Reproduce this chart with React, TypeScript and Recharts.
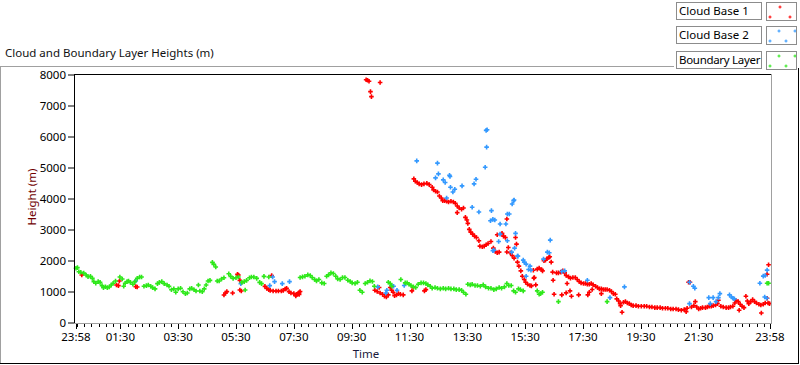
import { Scatter, ScatterChart, XAxis, YAxis } from 'recharts'

const FONT = '"Noto Sans", "DejaVu Sans", sans-serif'

// minutes after 23:58 of the previous day
const MAJOR_TICKS = [0, 92, 212, 332, 452, 572, 692, 812, 932, 1052, 1172, 1292, 1440]
const TICK_LABELS = ['23:58', '01:30', '03:30', '05:30', '07:30', '09:30', '11:30', '13:30', '15:30', '17:30', '19:30', '21:30', '23:58']
const HEIGHT_TICKS = [0, 1000, 2000, 3000, 4000, 5000, 6000, 7000, 8000]

const SERIES_NAMES = ['Cloud Base 1', 'Cloud Base 2', 'Boundary Layer']
const SERIES_COLORS = ['#ff0000', '#3399ff', '#2ee81a']

// [minute, height m]
const cloudBase1: [number, number][] = [
  [12, 1548], [84, 1226], [88, 1205], [90, 1355], [124, 1172], [127, 1161],
  [307, 904], [310, 968], [313, 1011], [325, 968], [335, 1570], [337, 1548], [340, 1376], [340, 1065], [343, 1032],
  [392, 1183], [396, 1118], [400, 1075], [403, 1054], [406, 1527], [409, 1032], [415, 1032], [420, 1032], [426, 1032],
  [430, 1054], [434, 1097], [437, 1118], [442, 1011], [446, 968], [452, 946], [456, 904], [456, 873], [458, 927],
  [461, 946], [463, 925], [463, 981], [465, 1014],
  [602, 7847], [605, 7830], [608, 7800], [611, 7465], [613, 7303], [631, 7757],
  [620, 1057], [625, 1014], [629, 1143], [631, 970], [636, 927], [640, 862], [644, 841], [648, 906], [652, 1143],
  [655, 1057], [658, 992], [661, 884], [665, 906], [669, 949], [673, 927], [679, 906], [697, 1035], [700, 1143],
  [723, 1035], [726, 1078],
  [701, 4649], [704, 4573], [708, 4530], [712, 4487], [717, 4465], [722, 4487], [728, 4508], [733, 4465], [739, 4379],
  [742, 4293], [746, 4250], [750, 4228], [754, 4098], [758, 4034], [761, 3947], [765, 3947], [769, 3926], [773, 3904],
  [778, 3926], [783, 3904], [787, 3861], [791, 3775], [791, 3559], [795, 3710], [800, 3667], [804, 3710], [808, 3408],
  [811, 3322], [813, 3214], [816, 3020], [819, 2933], [823, 2868], [827, 2804], [831, 2760], [836, 2653], [838, 2480],
  [843, 2458], [847, 2480], [851, 2523], [855, 2566], [861, 2631], [866, 2415], [870, 2307], [874, 2264], [874, 2847],
  [878, 2287], [884, 2890], [887, 2804], [891, 2760], [894, 3354], [894, 2290], [897, 2437], [901, 2264], [905, 2178],
  [909, 2092], [912, 2760], [914, 2545], [916, 1963], [919, 1834], [923, 1683], [926, 1510], [930, 1402], [933, 1316],
  [937, 1251], [942, 1208], [945, 1197], [949, 1704], [950, 1446], [951, 1467], [954, 1230],
  [957, 1737], [961, 1769], [966, 1726], [968, 1683], [971, 2007], [974, 2028], [977, 2071], [981, 2114], [983, 2136],
  [986, 1963], [989, 1640], [990, 1381], [992, 928], [997, 1618], [1001, 1618], [1006, 1640], [1008, 906], [1010, 1683],
  [1014, 1618], [1017, 1532], [1017, 971], [1019, 1273], [1022, 1489], [1025, 1035], [1026, 1446], [1028, 863],
  [1031, 1467], [1036, 1467], [1040, 1402], [1043, 906], [1044, 1338], [1048, 1294], [1053, 1273], [1057, 1273],
  [1061, 1251], [1062, 906], [1065, 1251], [1065, 992], [1069, 1273], [1071, 1079], [1073, 1230], [1078, 1187],
  [1082, 1143], [1086, 1100], [1090, 1100], [1090, 949], [1094, 1079], [1098, 1079], [1102, 1079], [1107, 1057],
  [1111, 1014], [1115, 949], [1119, 928], [1122, 777], [1126, 712], [1129, 626], [1130, 561], [1133, 345],
  [1136, 669], [1140, 690], [1144, 647], [1148, 626], [1152, 582], [1156, 561], [1162, 561], [1167, 539], [1173, 539],
  [1179, 539], [1184, 539], [1190, 518], [1195, 518], [1201, 496], [1206, 496], [1212, 496], [1217, 474], [1223, 474],
  [1228, 474], [1234, 453], [1239, 453], [1245, 453], [1250, 431], [1256, 410], [1262, 431], [1266, 366], [1268, 474],
  [1271, 1316], [1274, 1316], [1277, 518], [1282, 561], [1285, 690], [1288, 518], [1292, 453], [1296, 474], [1300, 496],
  [1306, 496], [1310, 518], [1314, 539], [1318, 539], [1322, 561], [1327, 582], [1331, 626], [1333, 734], [1338, 539],
  [1343, 518], [1349, 496], [1354, 496], [1358, 518], [1363, 539], [1367, 647], [1369, 734], [1374, 690], [1376, 410],
  [1378, 604], [1382, 539], [1386, 496], [1390, 863], [1393, 712], [1396, 626], [1400, 690], [1404, 755], [1408, 690],
  [1412, 647], [1417, 604], [1421, 582], [1422, 323], [1426, 604], [1430, 647], [1434, 798], [1434, 1575], [1436, 647],
  [1437, 1877], [1439, 626],
]

const cloudBase2: [number, number][] = [
  [124, 1355], [342, 1269], [402, 1205], [408, 1484], [412, 1334], [428, 1269], [443, 1334],
  [626, 1165], [643, 970], [645, 1057], [655, 1208], [659, 1186], [666, 1057], [681, 1208],
  [707, 5231], [746, 4681], [750, 5156], [752, 4811], [762, 4616], [766, 4530], [769, 4034], [775, 4767], [776, 4724],
  [777, 4379], [782, 4228], [786, 4314], [801, 4422], [822, 3732], [826, 4487], [830, 4638], [836, 3581], [849, 5026],
  [851, 6213], [852, 5674], [853, 6235], [860, 3300], [862, 3624], [865, 3343], [865, 2329], [867, 2351], [869, 3322],
  [877, 2631], [880, 3192], [880, 2868], [892, 3192], [895, 3516], [895, 2653], [899, 3516], [904, 2287], [905, 3840],
  [908, 3947], [909, 3969], [910, 2415], [912, 2890], [916, 2157], [917, 2156], [928, 2027], [930, 1963], [934, 1899],
  [934, 1510], [939, 1726], [942, 1834], [944, 1704], [970, 2060], [978, 2286], [982, 2264], [984, 2674],
  [1008, 1661], [1014, 1683], [1061, 1381], [1108, 820], [1138, 1165], [1273, 1316], [1273, 626], [1281, 1187],
  [1284, 1122], [1313, 820], [1316, 626], [1322, 820], [1328, 690], [1333, 820], [1336, 949], [1356, 906], [1360, 841],
  [1363, 798], [1366, 777], [1419, 1284], [1426, 1511], [1429, 841], [1430, 1532], [1433, 798], [1434, 1705],
]

const boundaryLayer: [number, number][] = [
  [0, 1765], [3, 1785], [6, 1655], [10, 1635], [16, 1610], [21, 1550], [25, 1495], [30, 1505], [34, 1440], [37, 1335],
  [41, 1280], [46, 1335], [50, 1310], [54, 1205], [57, 1140], [61, 1170], [65, 1140], [69, 1160], [73, 1225], [77, 1280],
  [82, 1355], [91, 1485], [96, 1420], [99, 1185], [102, 1280], [106, 1335], [109, 1355], [113, 1310], [118, 1250],
  [122, 1335], [127, 1440], [132, 1485], [136, 1485], [141, 1185], [146, 1205], [150, 1225], [155, 1185], [159, 1140],
  [164, 1100], [169, 1270], [173, 1310], [178, 1335], [183, 1270], [189, 1225], [193, 1185], [198, 1075], [203, 1100],
  [207, 990], [212, 1100], [217, 1120], [222, 1010], [227, 945], [231, 970], [236, 1100], [240, 1120], [245, 1075],
  [249, 1030], [254, 1225], [257, 1030], [262, 1010], [266, 1100], [270, 1225], [274, 1355], [278, 1375], [283, 1955],
  [286, 1890], [290, 1805], [293, 1355], [297, 1355], [302, 1420], [307, 1460], [317, 1590], [321, 1505], [326, 1440],
  [332, 1460], [337, 1485], [344, 1310], [349, 1335], [351, 1065], [354, 1375], [360, 1460], [364, 1485], [369, 1485],
  [375, 1440], [381, 1310], [385, 1270], [390, 1505], [400, 1485],
  [465, 1467], [470, 1488], [475, 1510], [481, 1553], [486, 1531], [490, 1467], [495, 1402], [499, 1359], [504, 1402],
  [510, 1294], [515, 1273], [520, 1510], [524, 1553], [529, 1618], [534, 1596], [539, 1510], [543, 1424], [548, 1402],
  [553, 1467], [558, 1467], [564, 1380], [569, 1337], [573, 1294], [579, 1273], [584, 1316], [589, 1057], [594, 992],
  [600, 1273], [605, 1316], [610, 1359], [615, 1337], [619, 1186], [648, 1316], [652, 1273], [655, 1186], [674, 1402],
  [683, 1294], [687, 1294], [691, 1251], [695, 1208], [700, 1165], [705, 1143], [710, 1251], [716, 1294], [721, 1294],
  [726, 1273], [730, 1230], [735, 1186], [739, 1122], [745, 1143], [750, 1122], [756, 1100], [762, 1122], [767, 1100],
  [773, 1122], [778, 1100], [784, 1100], [789, 1078], [795, 1078], [800, 1057], [804, 992], [809, 927], [813, 1251],
  [818, 1230], [822, 1251], [828, 1208], [833, 1208], [839, 1186], [845, 1230], [850, 1165], [856, 1122], [861, 1122],
  [867, 1078], [872, 1100], [878, 1143], [883, 1122], [889, 1165], [894, 1273], [898, 1208], [903, 1208], [908, 1035],
  [912, 992], [918, 1100], [922, 1078], [928, 1035], [957, 1035], [961, 928], [964, 949], [968, 992], [1001, 690],
  [1102, 690], [1434, 1284], [1437, 1284],
]

const SERIES = [cloudBase1, cloudBase2, boundaryLayer]

// quarter-hour minor ticks (00:00 is 2 min after start)
const MINOR_TICKS: number[] = []
for (let m = 2; m < 1440; m += 15) MINOR_TICKS.push(m)
const ALL_TICKS = Array.from(new Set([...MAJOR_TICKS, ...MINOR_TICKS])).sort((a, b) => a - b)

const cross = (color: string) => (p: any) => {
  const { cx, cy } = p
  if (cx == null || cy == null) return <g />
  return (
    <path
      d={`M${cx - 2.3},${cy}H${cx + 2.3}M${cx},${cy - 2.3}V${cy + 2.3}`}
      stroke={color}
      strokeWidth={1.6}
      fill="none"
    />
  )
}

function TimeTick(props: any) {
  const { x, y, payload } = props
  const i = MAJOR_TICKS.indexOf(payload.value)
  const px = Math.round(x) + 0.5
  return (
    <g>
      <line x1={px} x2={px} y1={y} y2={y + (i >= 0 ? 5 : 3)} stroke="#000" />
      {i >= 0 ? (
        <text x={x} y={y + 17} textAnchor="middle" fontSize={11.5} fill="#000" fontFamily={FONT}>
          {TICK_LABELS[i]}
        </text>
      ) : null}
    </g>
  )
}

const line = (left: number, top: number, width: number, height: number, color: string) => (
  <div style={{ position: 'absolute', left, top, width, height, background: color }} />
)

export default function App() {
  return (
    <div style={{ position: 'absolute', left: 0, top: 0, width: 800, height: 365, background: '#fff', fontFamily: FONT }}>
      <div style={{ position: 'absolute', left: 5, top: 45, fontSize: 11.5, color: '#111', whiteSpace: 'nowrap' }}>
        Cloud and Boundary Layer Heights (m)
      </div>

      {/* outer frame */}
      {line(0, 66, 674, 1, '#a0a0a0')}
      {line(0, 66, 1, 298, '#a0a0a0')}
      {line(0, 363, 799, 1, '#000')}
      {line(798, 68, 1, 296, '#000')}

      <div style={{ position: 'absolute', left: 0, top: 0 }}>
        <ScatterChart width={800} height={365} margin={{ top: 74, right: 28, bottom: 0, left: 0 }}>
          <XAxis
            type="number"
            dataKey="t"
            domain={[0, 1440]}
            ticks={ALL_TICKS}
            interval={0}
            tick={<TimeTick />}
            tickLine={false}
            axisLine={false}
            tickSize={0}
            tickMargin={0}
            height={41}
            padding={{ left: 2, right: 2 }}
          />
          <YAxis
            type="number"
            dataKey="h"
            domain={[0, 8000]}
            ticks={HEIGHT_TICKS}
            interval={0}
            width={74}
            tick={{ fill: '#000', fontSize: 11.5, fontFamily: FONT }}
            tickLine={{ stroke: '#000' }}
            tickSize={6}
            tickMargin={2}
            axisLine={false}
            padding={{ top: 1, bottom: 1 }}
          />
          {SERIES.map((s, i) => (
            <Scatter
              key={SERIES_NAMES[i]}
              name={SERIES_NAMES[i]}
              data={s.map(([t, h]) => ({ t, h }))}
              fill={SERIES_COLORS[i]}
              shape={cross(SERIES_COLORS[i])}
              isAnimationActive={false}
            />
          ))}
        </ScatterChart>
      </div>

      {/* plot frame */}
      {line(74, 74, 698, 1, '#000')}
      {line(74, 74, 1, 250, '#000')}
      {line(771, 74, 1, 250, '#a0a0a0')}
      {line(74, 323, 698, 1, '#a0a0a0')}

      <div
        style={{
          position: 'absolute',
          left: 31,
          top: 197,
          transform: 'translate(-50%, -50%) rotate(-90deg)',
          fontSize: 11.5,
          color: '#700000',
          whiteSpace: 'nowrap',
        }}
      >
        Height (m)
      </div>
      <div style={{ position: 'absolute', left: 366, top: 346, transform: 'translateX(-50%)', fontSize: 11.5, color: '#1a1a3c' }}>
        Time
      </div>

      {/* legend */}
      {SERIES_NAMES.map((n, i) => {
        const top = 2 + i * 24.3
        const c = SERIES_COLORS[i]
        const pts = i === 0 ? [[13, 4], [3, 14], [23, 14]] : [[12, 4], [28, 4], [3, 14], [19, 14]]
        return (
          <div key={n}>
            <div
              style={{
                position: 'absolute',
                left: 676,
                top,
                width: 86,
                height: 18,
                border: '1px solid #8c8c8c',
                background: '#fff',
                fontSize: 11.5,
                lineHeight: '16px',
                paddingLeft: 2,
                boxSizing: 'border-box',
                color: '#000',
                whiteSpace: 'nowrap',
                overflow: 'hidden',
                letterSpacing: i === 2 ? -0.3 : 0,
              }}
            >
              {n}
            </div>
            <svg
              width={31}
              height={19}
              style={{ position: 'absolute', left: 766, top, border: '1px solid #8c8c8c', boxSizing: 'border-box' }}
            >
              {pts.map(([x, y], k) => (
                <path key={k} d={`M${x - 1.5},${y}H${x + 1.5}M${x},${y - 1.5}V${y + 1.5}`} stroke={c} strokeWidth={1} />
              ))}
            </svg>
          </div>
        )
      })}
    </div>
  )
}
